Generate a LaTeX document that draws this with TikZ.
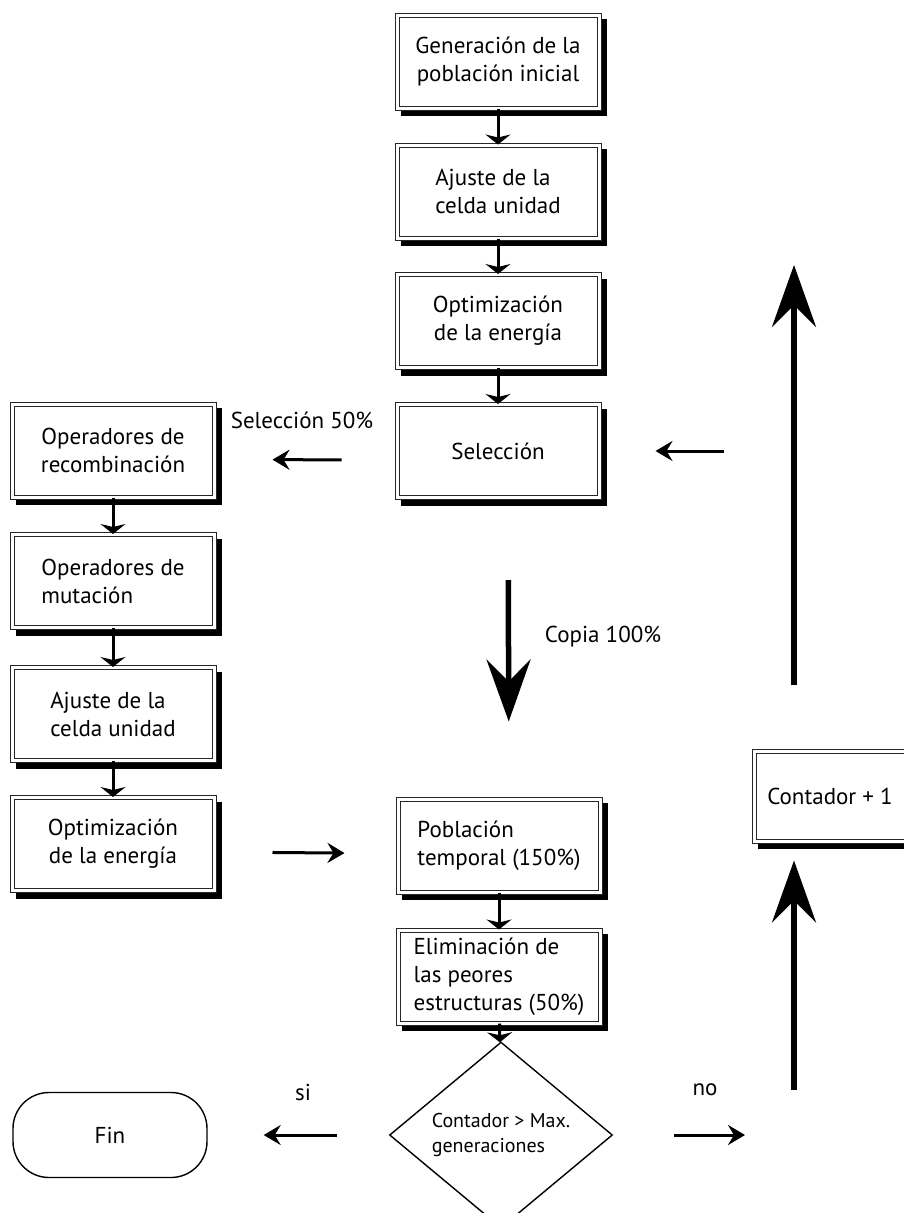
\documentclass[tikz,border=0pt]{standalone}
\usepackage{fontspec}
\setmainfont{PT Sans}
\usetikzlibrary{positioning,arrows.meta,shapes.geometric,calc}
\tikzset{
  proc/.style    ={rectangle,draw=black!85,fill=white,double,double distance=3pt,line width=1pt,
                   minimum width=202pt,minimum height=93pt,align=center,font=\fontsize{23}{28}\selectfont,
                   preaction={draw=black,fill=black,line width=4pt,transform canvas={xshift=6pt,yshift=-6pt}}},
  decision/.style={diamond,draw=black,line width=1.4pt,fill=white,minimum width=223pt,
                   minimum height=154pt,inner sep=1pt,align=left,font=\fontsize{20}{25}\selectfont},
  term/.style    ={rectangle,rounded corners=36pt,draw=black,line width=1.4pt,fill=white,
                   minimum width=194pt,minimum height=85pt,font=\fontsize{23}{28}\selectfont},
  lbl/.style     ={font=\fontsize{23}{28}\selectfont},
  link/.style    ={-{Stealth[length=10pt,width=25pt,inset=3pt]},line width=3pt},
  hop/.style     ={-{Stealth[length=17pt,width=20pt,inset=6pt]},line width=3pt},
  bigflow/.style ={-{Stealth[length=62pt,width=44pt,inset=22pt]},line width=5.5pt},
}
\begin{document}
\begin{tikzpicture}[x=1pt,y=-1pt]
  \useasboundingbox (0,0) rectangle (903,1213);
  % main column
  \node[proc] (gen)    at (498,61.5)  {Generación de la\\población inicial};
  \node[proc,align=left] (ajuste) at (498,191.5) {Ajuste de la\\celda unidad};
  \node[proc] (optim)  at (498,321)   {Optimización\\de la energía};
  \node[proc] (sel)    at (498,451)   {Selección};
  \node[proc,align=left] (pobl) at (499,845.5) {Población\\temporal (150\%)};
  \node[proc,align=left] (elim) at (499,976.5) {Eliminación de\\las peores\\estructuras (50\%)};
  \node[decision] (cond) at (501,1135) {Contador > Max.\\generaciones};
  % genetic operators
  \node[proc] (recomb) at (113,450.5) {Operadores de\\recombinación};
  \node[proc,align=left] (mut) at (113,581) {Operadores de\\mutación};
  \node[proc,align=left] (ajusteb) at (113,714) {Ajuste de la\\celda unidad};
  \node[proc] (optimb) at (113,844) {Optimización\\de la energía};
  % end and counter
  \node[term] (fin) at (110,1135) {Fin};
  \node[proc,minimum width=152pt,minimum height=90pt] (cont) at (830,796) {Contador + 1};
  \coordinate (riser)    at (794,1090);
  \coordinate (riserTop) at (794,265);
  % short links
  \draw[link] (gen) -- (ajuste);
  \draw[link] (ajuste) -- (optim);
  \draw[link] (optim) -- (sel);
  \draw[link] (recomb) -- (mut);
  \draw[link] (mut) -- (ajusteb);
  \draw[link] (ajusteb) -- (optimb);
  \draw[link] (pobl) -- (elim);
  \draw[link] (elim) -- (cond);
  % side arrows
  \draw[hop,shorten <=55pt,shorten >=58pt] ([yshift=-9pt]sel.west) -- ([yshift=-9pt]recomb.east);
  \node[lbl] (selpct) at (302,420) {Selección 50\%};
  \draw[hop,shorten <=58pt,shorten >=53pt] ([yshift=-8pt]optimb.east) -- ([yshift=-8pt]pobl.west);
  \draw[bigflow,shorten <=82pt,shorten >=77pt] ([xshift=10pt]sel.south) -- ([xshift=10pt]pobl.north);
  \node[lbl] (copia) at (603,637) {Copia 100\%};
  % decision outcomes
  \draw[hop,shorten <=52pt,shorten >=56pt] (cond.west) -- (fin.east);
  \node[lbl] (si) at (303,1092) {si};
  \draw[hop,shorten <=61pt,shorten >=49pt] (cond.east) -- (cond.east -| riser);
  \node[lbl] (no) at (705,1090) {no};
  % loop back
  \draw[bigflow,shorten >=19pt] (riser) -- (riser |- cont.south);
  \draw[bigflow,shorten <=66pt] (riser |- cont.north) -- (riserTop);
  \draw[hop,shorten <=30pt,shorten >=56pt] (cont.west |- sel.east) -- (sel.east);
\end{tikzpicture}
\end{document}
